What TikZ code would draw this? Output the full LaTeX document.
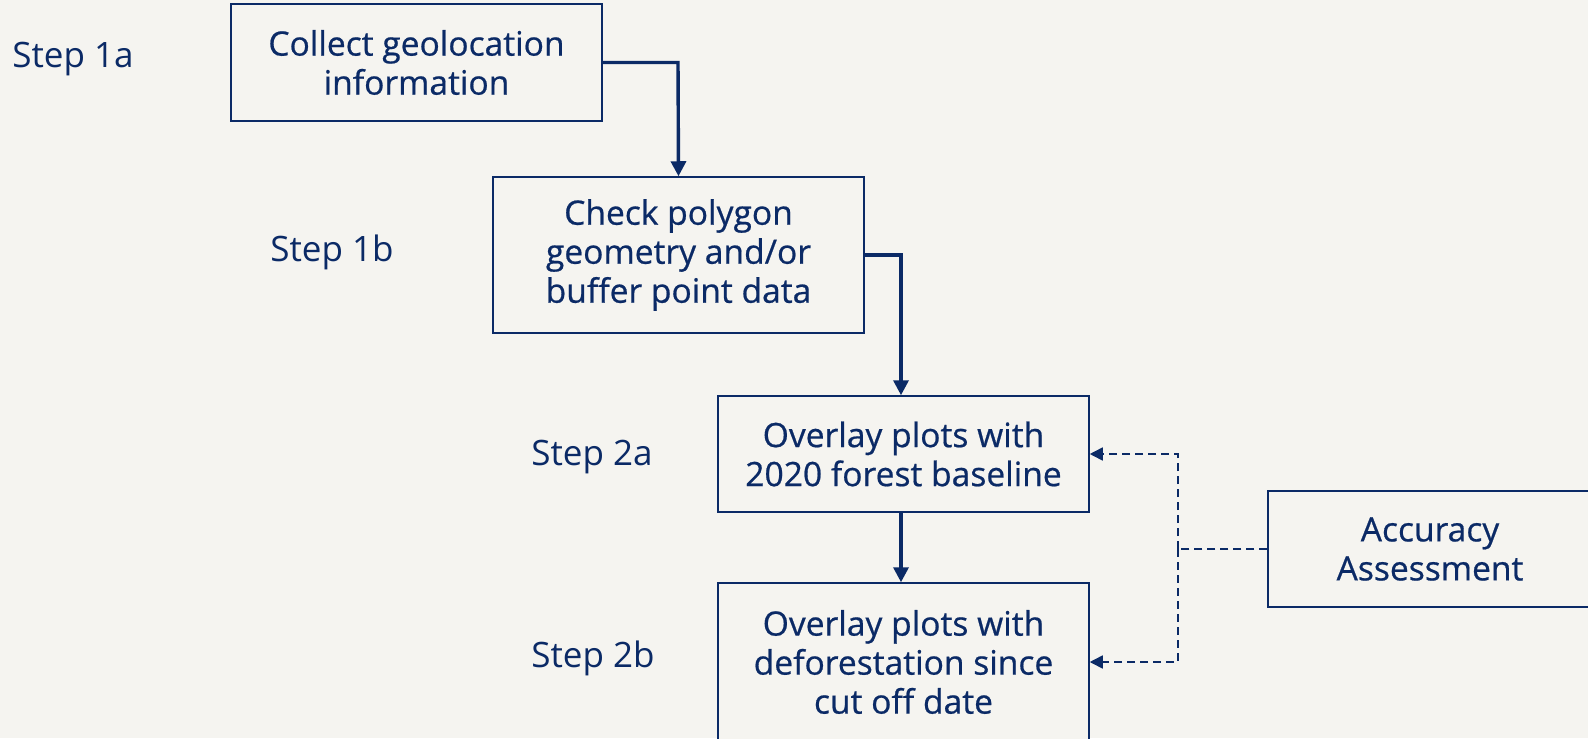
\documentclass[tikz,border=0pt]{standalone}
\usepackage{fontspec}
\setmainfont{Open Sans}
\newfontfamily\boxfont{Open Sans}[FakeBold=0.6]
\usetikzlibrary{arrows.meta}
\definecolor{navy}{HTML}{0B2A66}
\definecolor{bgc}{HTML}{F5F4F0}
\tikzset{
  box/.style={draw=navy, line width=0.75pt, fill=bgc, text=navy, align=center,
    font=\boxfont\fontsize{16.8pt}{19.5pt}\selectfont, minimum width=185.5pt, inner sep=0pt},
  steplabel/.style={text=navy, font=\fontsize{17.5pt}{20pt}\selectfont, inner sep=0pt},
  flow/.style={draw=navy, line width=1.7pt, -{Triangle[length=7.5pt,width=7.5pt]}},
  dashline/.style={draw=navy, line width=0.8pt, dash pattern=on 4pt off 2.5pt},
  dasharrow/.style={dashline, -{Triangle[length=6.5pt,width=6.5pt]}}
}
\begin{document}
\begin{tikzpicture}[x=0.5pt,y=-0.5pt]
\fill[bgc] (0,0) rectangle (1588,738);
\useasboundingbox (0,0) rectangle (1588,738);
\clip (0,0) rectangle (1588,738);

\node[box, minimum height=58.5pt] (b1) at (416.5,62.5) {Collect geolocation\\information};
\node[box, minimum height=78pt] (b2) at (678.5,255) {Check polygon\\geometry and/or\\buffer point data};
\node[box, minimum height=58pt] (b3) at (903.5,454) {Overlay plots with\\2020 forest baseline};
\node[box, minimum height=79pt] (b4) at (903.5,662) {Overlay plots with\\deforestation since\\cut off date};
\node[box, minimum width=162pt, minimum height=58pt] (acc) at (1430,549) {Accuracy\\Assessment};

\node[steplabel] (s1a) at (73,59) {Step 1a};
\node[steplabel] (s1b) at (332,252) {Step 1b};
\node[steplabel] (s2a) at (592,457) {Step 2a};
\node[steplabel] (s2b) at (593,658) {Step 2b};

\coordinate (k1) at (678,62.5);
\coordinate (k2) at (901,255);
\coordinate (j) at (1178,549);

\draw[flow] (b1.east) -- (k1) -- (b2.north);
\draw[flow] (b2.east) -- (k2) -- (b3.north -| k2);
\draw[flow] (b3.south -| k2) -- (b4.north -| k2);

\draw[dashline] (acc.west) -- (j);
\draw[dasharrow] (j) |- (b3.east);
\draw[dasharrow] (j) |- (b4.east);
\end{tikzpicture}
\end{document}
